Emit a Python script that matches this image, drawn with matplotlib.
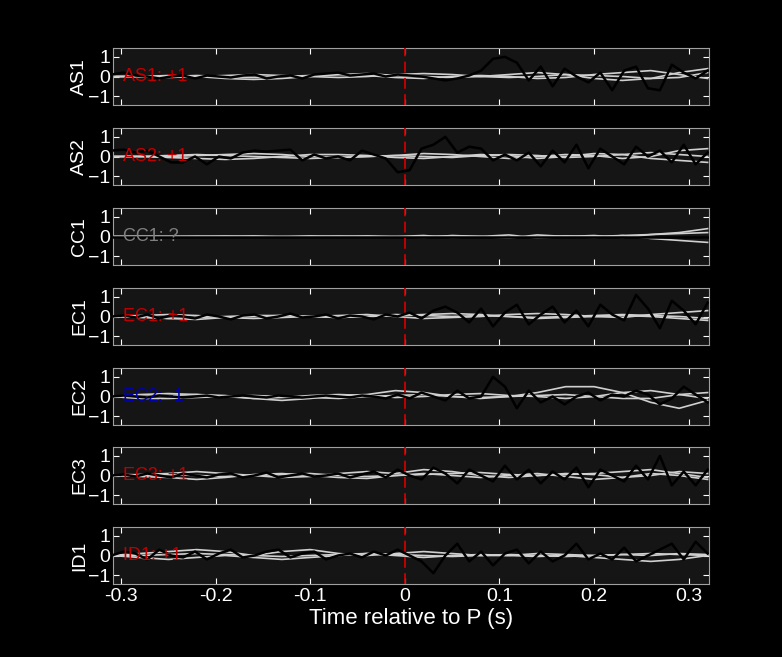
import numpy as np
import matplotlib.pyplot as plt

stations = ["AS1", "AS2", "CC1", "EC1", "EC2", "EC3", "ID1"]
labels = ["AS1: +1", "AS2: +1", "CC1: ?", "EC1: +1", "EC2: -1", "EC3: +1", "ID1: +1"]
label_colors = ["#c00000", "#c00000", "#808080", "#c00000", "#0000b0", "#c00000", "#c00000"]

t_black = np.linspace(-0.31, 0.32, 51)
t_gray = np.linspace(-0.31, 0.32, 22)

black = {
    "AS1": [0.1, 0.2, 0.05, 0.0, -0.1, 0.0, 0.05, -0.1, 0.05, 0.0, -0.05, 0.05, 0.1, -0.1, 0.0, 0.05, -0.1,
            0.1, 0.15, 0.2, 0.05, 0.1, 0.15, 0.0, 0.1, 0.05, 0.0, -0.1, -0.2, -0.1, 0.05, 0.3, 0.9, 1.0, 0.7,
            -0.2, 0.5, -0.5, 0.4, 0.0, -0.3, 0.2, -0.7, 0.3, 0.5, -0.6, -0.7, 0.6, 0.2, -0.1, 0.3],
    "AS2": [0.3, 0.35, 0.2, 0.3, 0.0, -0.3, -0.3, 0.0, -0.4, 0.0, -0.1, 0.2, 0.3, 0.25, 0.3, 0.35, -0.2,
            0.1, -0.1, 0.0, -0.2, 0.3, 0.1, -0.1, -0.8, -0.7, 0.4, 0.6, 1.0, 0.2, 0.5, 0.4, -0.2, 0.1, -0.2,
            0.2, -0.5, 0.3, -0.3, 0.6, -0.6, 0.4, 0.0, -0.4, 0.5, 0.0, 0.3, -0.3, 0.6, -0.4, 0.2],
    "CC1": [0.0] * 51,
    "EC1": [0.0, 0.05, -0.05, 0.1, -0.1, 0.05, 0.0, -0.1, 0.1, 0.0, -0.15, 0.05, 0.1, -0.1, 0.0, 0.15, -0.05,
            0.0, 0.1, -0.1, 0.05, 0.0, -0.15, 0.1, 0.0, 0.2, -0.1, 0.3, 0.5, 0.2, -0.3, 0.4, -0.5, 0.2, 0.6,
            -0.4, 0.1, 0.5, -0.3, 0.3, -0.5, 0.6, 0.1, -0.2, 1.1, 0.4, -0.6, 0.8, 0.3, -0.4, 0.7],
    "EC2": [0.0, 0.05, 0.0, -0.05, 0.05, 0.0, -0.05, 0.0, 0.05, -0.05, 0.0, 0.05, 0.0, -0.05, 0.05, 0.0,
            -0.05, 0.0, 0.05, 0.0, -0.05, 0.05, 0.0, -0.1, 0.1, -0.1, 0.2, 0.0, -0.2, 0.3, -0.1, 0.0, 1.0,
            0.5, -0.6, 0.3, -0.3, 0.0, -0.4, 0.0, 0.2, -0.2, 0.1, 0.0, 0.3, 0.1, -0.4, -0.1, 0.5, 0.1, -0.3],
    "EC3": [0.0, 0.05, -0.05, 0.1, 0.0, -0.1, 0.1, 0.0, -0.1, 0.05, 0.1, -0.1, 0.0, 0.15, -0.1, 0.0, 0.1,
            -0.05, 0.0, 0.1, -0.1, 0.05, 0.2, -0.1, 0.3, 0.0, -0.2, 0.4, 0.1, -0.4, 0.3, 0.0, -0.3, 0.5,
            -0.2, 0.3, -0.4, 0.2, -0.2, 0.4, -0.6, 0.3, 0.0, -0.3, 0.5, -0.2, 1.0, -0.5, 0.2, -0.5, 0.3],
    "ID1": [0.0, 0.2, 0.1, -0.2, 0.3, 0.0, -0.1, 0.2, -0.2, 0.1, 0.3, -0.1, 0.0, 0.2, 0.3, -0.1, 0.1, 0.2,
            -0.2, 0.0, 0.1, -0.1, 0.2, 0.0, 0.3, 0.0, -0.3, -0.9, 0.0, 0.6, -0.3, 0.2, -0.5, 0.1, 0.3, -0.4,
            0.2, -0.3, 0.0, 0.6, -0.2, 0.1, -0.2, 0.4, -0.3, 0.0, 0.3, 0.6, -0.2, 0.7, 0.1],
}

gray = {
    "AS1": [[0, 0, -0.05, 0, 0.05, 0.1, 0.05, 0, -0.05, 0, 0.1, 0.15, 0.1, 0, -0.05, 0, 0.1, 0.05, 0, -0.1, -0.05, 0.2],
            [0, 0, 0.05, 0, -0.1, -0.15, -0.1, 0, 0.1, 0.15, 0.05, 0, -0.05, 0, 0.1, 0.2, 0.1, -0.1, -0.2, -0.1, 0.2, 0.4],
            [0, 0, 0, 0.05, 0, -0.05, 0, 0.05, 0.1, 0.05, -0.05, -0.1, 0, 0.05, 0, -0.1, -0.05, 0.1, 0.2, 0.3, 0.1, -0.1]],
    "AS2": [[0, 0, 0.05, 0.1, 0.05, 0, -0.05, -0.1, -0.05, 0, 0.05, 0.15, 0.1, 0, -0.1, 0, 0.1, 0.05, -0.1, 0, 0.3, 0.4],
            [0, 0, -0.05, -0.1, -0.15, -0.1, 0, 0.1, 0.1, 0.05, -0.05, -0.1, 0, 0.1, 0.05, -0.1, 0, 0.15, 0.1, -0.1, -0.2, -0.3],
            [0, 0, 0, 0.05, 0.1, 0.15, 0.1, 0, -0.05, 0, 0.05, 0, -0.05, 0.05, 0.1, 0.05, -0.05, 0, 0.1, 0.2, 0.1, 0]],
    "CC1": [[0, 0, 0, 0.02, 0, -0.03, 0, 0.03, 0, -0.03, 0, 0.05, -0.05, 0, 0.08, -0.08, 0, 0.05, -0.05, 0.1, 0.2, 0.4],
            [0, 0, 0, -0.02, 0, 0.03, 0, -0.03, 0, 0.03, 0, -0.05, 0.05, 0, -0.08, 0.08, 0, -0.05, 0.05, -0.1, -0.2, -0.3],
            [0, 0, 0, 0, 0.02, 0, -0.02, 0, 0.02, 0, -0.02, 0, 0.03, 0, -0.03, 0, 0.03, 0, 0.05, 0.1, 0.15, 0.2]],
    "EC1": [[0, -0.05, -0.1, -0.05, 0, 0.05, 0.05, 0, -0.05, 0, 0.05, 0.1, 0.15, 0.1, 0, -0.05, 0, 0.05, 0.1, 0.05, 0, -0.1],
            [0, 0.05, 0.1, 0.05, -0.05, -0.1, -0.05, 0, 0.05, 0.1, 0, -0.1, -0.05, 0, 0.1, 0.15, 0.1, 0, -0.05, 0.1, 0.2, 0.3],
            [0, 0, -0.1, -0.15, -0.05, 0, 0.05, 0, -0.05, 0, 0.1, 0.05, 0, 0.05, 0, -0.1, -0.05, 0, 0.05, 0, -0.1, -0.2]],
    "EC2": [[0, 0, 0.05, 0.1, 0.05, -0.1, -0.2, -0.1, 0.05, 0.1, 0.3, 0.2, 0, -0.1, 0, 0.2, 0.5, 0.5, 0.2, -0.3, -0.6, -0.2],
            [0, 0.1, 0.15, 0.1, 0, -0.1, -0.05, 0.05, 0.1, 0.05, -0.05, 0, 0.1, 0.15, 0.05, 0, -0.1, 0, 0.2, 0.3, 0.1, -0.1],
            [0, -0.1, -0.1, -0.05, 0, 0.05, 0, -0.05, -0.1, 0, 0.05, 0.1, 0, -0.05, 0, 0.05, 0.1, 0, -0.1, -0.1, 0.1, 0.2]],
    "EC3": [[0, 0.05, 0.1, 0.2, 0.1, 0, -0.1, -0.05, 0.1, 0.2, 0.1, 0.3, 0.2, 0, -0.1, 0, 0.1, 0.05, -0.1, 0, 0.2, 0.1],
            [0, -0.05, -0.1, -0.2, -0.1, 0.05, 0.1, 0, -0.1, -0.15, 0, 0.1, 0, -0.1, 0, 0.1, -0.05, -0.2, -0.1, 0.1, 0, -0.2],
            [0, 0, 0.05, 0, -0.05, 0, 0.05, 0.1, 0, -0.05, 0, 0.05, 0.1, 0.15, 0.05, 0, 0.05, 0.1, 0.2, 0.3, 0.1, -0.1]],
    "ID1": [[0, 0.1, 0.2, 0.3, 0.2, 0, 0.2, 0.3, 0.1, 0, 0.1, 0.2, 0.1, 0, 0, 0.1, 0.05, 0, 0.05, 0, 0.1, 0.05],
            [0, -0.1, -0.2, -0.1, 0, -0.1, -0.2, -0.1, 0, 0.1, 0, -0.1, 0, 0.05, 0, -0.05, 0, -0.1, -0.2, -0.3, -0.2, 0],
            [0, 0, 0.05, 0.1, 0.05, 0, -0.05, 0, 0.05, 0.1, 0.05, 0, -0.05, 0, 0.05, 0, -0.05, 0, 0.05, 0.1, 0.05, 0]],
}

fig = plt.figure(figsize=(7.82, 6.57), dpi=100, facecolor="black")
left, width = 113 / 782, (709 - 113) / 782
tops = [48, 128, 208, 288, 368, 447, 527]
h = 57
axes = []
for i, st in enumerate(stations):
    ax = fig.add_axes([left, 1 - (tops[i] + h) / 657, width, h / 657])
    ax.set_facecolor("#151515")
    for g in gray[st]:
        ax.plot(t_gray, g, color="#d0d0d0", lw=1.2, zorder=2)
    ax.plot(t_black, black[st], color="black", lw=1.8, zorder=3)
    ax.axvline(0, color="#cc0000", lw=1.3, ls=(0, (6, 3)), zorder=4)
    ax.text(-0.298, 0, labels[i], color=label_colors[i], fontsize=13, va="center", ha="left",
            family="Liberation Sans", zorder=5)
    ax.set_xlim(-0.3085, 0.3215)
    ax.set_ylim(-1.45, 1.45)
    ax.set_yticks([-1, 0, 1])
    ax.set_xticks([-0.3, -0.2, -0.1, 0, 0.1, 0.2, 0.3])
    ax.tick_params(colors="white", labelsize=14, direction="in", length=4, pad=3,
                   top=True, right=True, labelbottom=(i == 6))
    ax.tick_params(axis="y", pad=2)
    ax.set_xticklabels(["-0.3", "-0.2", "-0.1", "0", "0.1", "0.2", "0.3"])
    for lab in ax.get_xticklabels() + ax.get_yticklabels():
        lab.set_family("Liberation Sans")
    for s in ax.spines.values():
        s.set_color("#a0a0a0")
    ax.set_ylabel(st, color="white", fontsize=14, family="Liberation Sans", labelpad=0)
    axes.append(ax)

axes[-1].set_xlabel("Time relative to P (s)", color="white", fontsize=16,
                    family="Liberation Sans", labelpad=2)
fig.savefig("out.png", dpi=100, facecolor="black")
